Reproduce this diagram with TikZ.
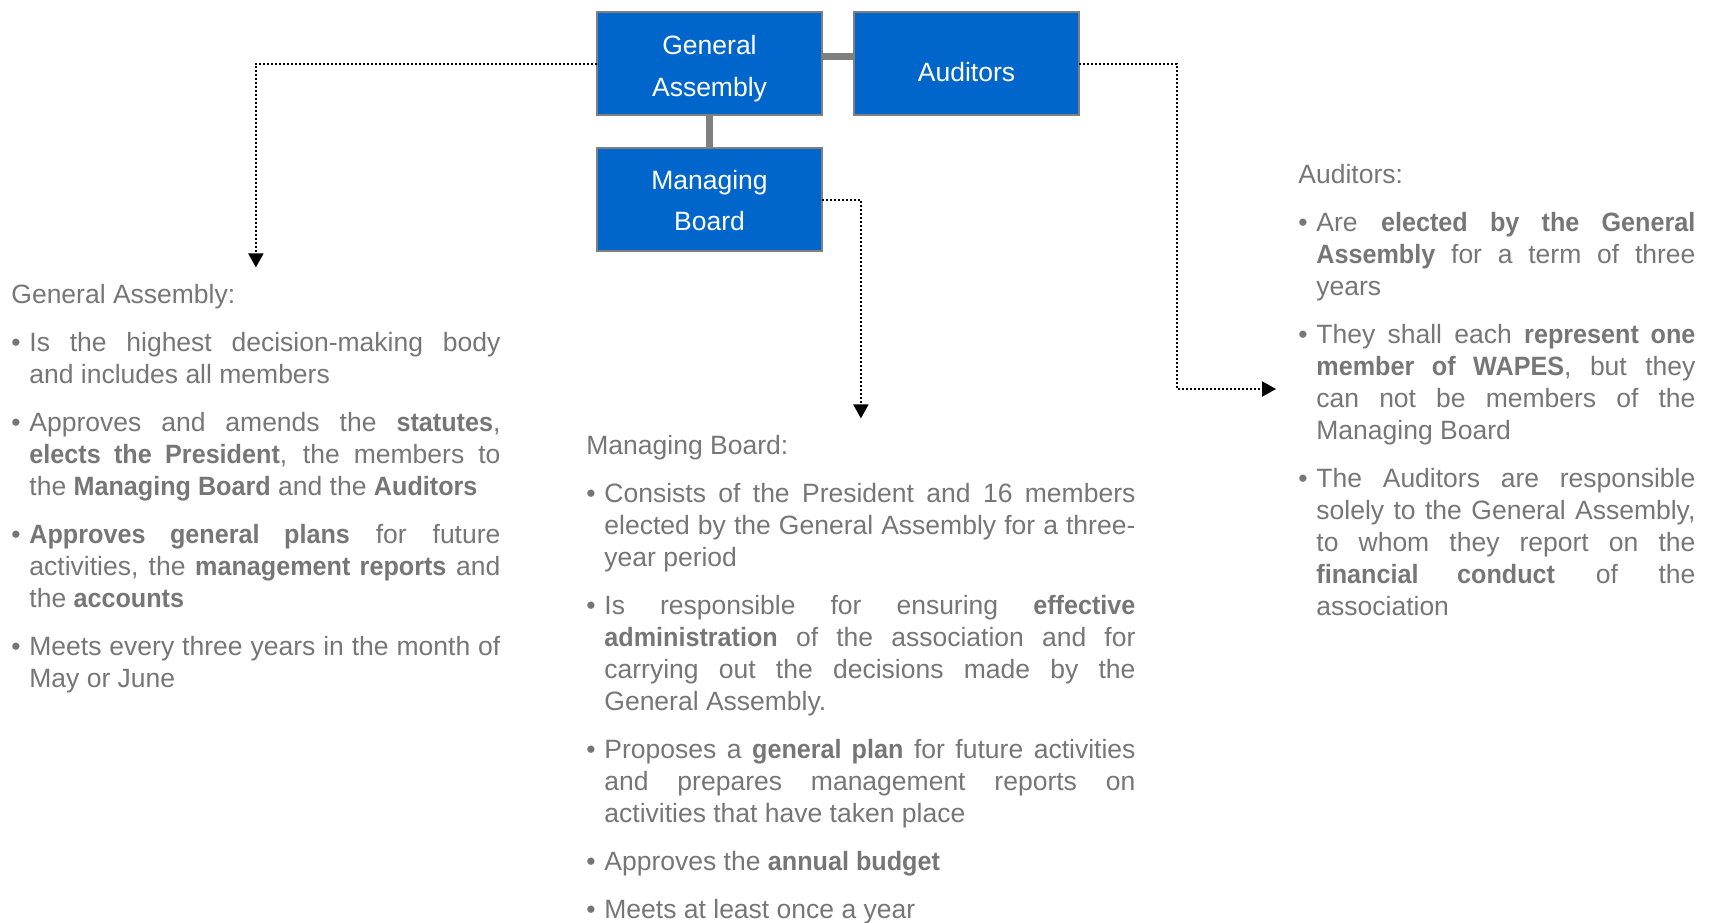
\documentclass[tikz,border=0pt]{standalone}
\usepackage{fontspec}
\setmainfont{Liberation Sans}[BoldFeatures={FakeStretch=0.95}]
\usetikzlibrary{arrows.meta,positioning}

\definecolor{boxblue}{RGB}{0,102,204}
\definecolor{boxline}{RGB}{127,127,127}
\definecolor{notegray}{RGB}{118,118,118}

\newcommand{\bul}{\par\hangindent=9pt\hangafter=1\noindent\makebox[9pt][l]{\textbullet}}
\newcommand{\notesetup}{\setlength{\parskip}{8pt}\tolerance=10000\hyphenpenalty=10000}
\newcommand{\boxlabel}[2]{\raisebox{#1}[\height][\depth]{\begin{tabular}{@{}c@{}}#2\end{tabular}}}

\begin{document}
\begin{tikzpicture}[x=0.5pt,y=-0.5pt,node distance=16pt,>={Triangle[width=7.5pt,length=7pt]}]

    \tikzstyle{box}=[rectangle,draw=boxline,line width=1pt,fill=boxblue,text=white,minimum width=112.5pt,minimum height=51.5pt,outer sep=0pt,inner sep=0pt,font=\fontsize{13.25}{20.75}\selectfont]
    \tikzstyle{bar}=[draw=boxline,line width=3.5pt]
    \tikzstyle{link}=[draw=black,line width=1pt,dash pattern=on 1pt off 1pt,->,shorten >=8pt]
    \tikzstyle{notes}=[anchor=base west,inner sep=0pt,align=justify,text=notegray,font=\fontsize{13.25}{16}\selectfont]

    \useasboundingbox (0,0) rectangle (1711,922);

        \node [box] (ga) at (709.5,63.5) {\boxlabel{-1.8pt}{General\\Assembly}}; %GA
        \node [box] (aud) [right=of ga] {\boxlabel{-5pt}{Auditors}};              %auditors
        \node [box] (mb) [below=16.5pt of ga] {\boxlabel{-1.2pt}{Managing\\Board}} %board
            edge [bar] (ga);
        \draw [bar] ([yshift=3.5pt]ga.east) -- ([yshift=3.5pt]aud.west);

        \node [notes,text width=244.5pt] (gatext) at (11,303) {\notesetup General Assembly:
            \bul Is the highest decision-making body \linebreak and includes all members
            \bul Approves and amends the \textbf{statutes}, \linebreak \textbf{elects the President}, the members to \linebreak the \textbf{Managing Board} and the \textbf{Auditors}
            \bul \textbf{Approves general plans} for future \linebreak activities, the \textbf{management reports} and \linebreak the \textbf{accounts}
            \bul Meets every three years in the month of \linebreak May or June\par};

        \node [notes,text width=274.5pt] (mbtext) at (586,454) {\notesetup Managing Board:
            \bul Consists of the President and 16 members \linebreak elected by the General Assembly for a three-\linebreak year period
            \bul Is responsible for ensuring \textbf{effective} \linebreak \textbf{administration} of the association and for \linebreak carrying out the decisions made by the \linebreak General Assembly.
            \bul Proposes a \textbf{general plan} for future activities \linebreak and prepares management reports on \linebreak activities that have taken place
            \bul Approves the \textbf{annual budget}
            \bul Meets at least once a year\par};

        \node [notes,text width=198.5pt] (audtext) at (1298,183) {\notesetup Auditors:
            \bul Are \textbf{elected by the General} \linebreak \textbf{Assembly} for a term of three \linebreak years
            \bul They shall each \textbf{represent one} \linebreak \textbf{member of WAPES}, but they \linebreak can not be members of the \linebreak Managing Board
            \bul The Auditors are responsible \linebreak solely to the General Assembly, \linebreak to whom they report on the \linebreak \textbf{financial conduct} of the \linebreak association\par};

        \coordinate (audknee) at (1177,389);
        \draw [link] (ga.west) -| (gatext.north);
        \draw [link] (mb.east) -| (mbtext.north);
        \draw [link,shorten >=11pt] (aud.east) -| (audknee) -- (audtext.west |- audknee);

\end{tikzpicture}
\end{document}
